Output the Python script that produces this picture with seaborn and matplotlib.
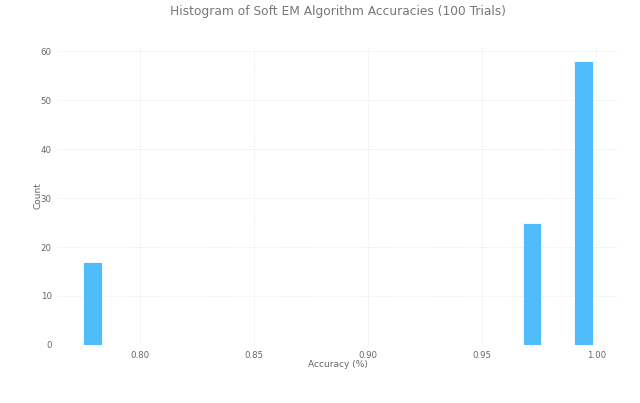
import numpy as np
import pandas as pd
import matplotlib
matplotlib.use("Agg")
import matplotlib.pyplot as plt
import seaborn as sns

accuracy_values = [0.7737, 0.9718, 1.0]
trial_counts = [17, 25, 58]

df = pd.DataFrame({"Accuracy": np.repeat(accuracy_values, trial_counts)})

sns.set_theme(style="white")
plt.rcParams["font.family"] = ["DejaVu Sans"]

fig, ax = plt.subplots(figsize=(6.4, 4.03), dpi=100)
fig.subplots_adjust(left=0.0906, right=0.9656, top=0.884, bottom=0.144)

sns.histplot(data=df, x="Accuracy", bins=20, shrink=0.7, color="#4FBDFB", alpha=1.0,
             edgecolor="white", linewidth=0.6, ax=ax)

for s in ax.spines.values():
    s.set_visible(False)
ax.grid(True, linestyle=":", color="#e6e6e6", linewidth=0.7)
ax.set_axisbelow(True)
ax.tick_params(axis="both", labelsize=6.2, colors="#666666", length=2, width=0.5,
               color="#cccccc", pad=2.5)
ax.set_xticks([0.80, 0.85, 0.90, 0.95, 1.00])
ax.set_xticklabels(["0.80", "0.85", "0.90", "0.95", "1.00"])
ax.set_yticks([0, 10, 20, 30, 40, 50, 60])
ax.set_xlabel("Accuracy (%)", fontsize=6.5, color="#666666", labelpad=0)
ax.set_ylabel("Count", fontsize=6.5, color="#666666", labelpad=-1)
ax.set_title("Histogram of Soft EM Algorithm Accuracies (100 Trials)",
             fontsize=8.8, color="#777777", pad=22.5)

fig.savefig("out.png", dpi=100, facecolor="white")
